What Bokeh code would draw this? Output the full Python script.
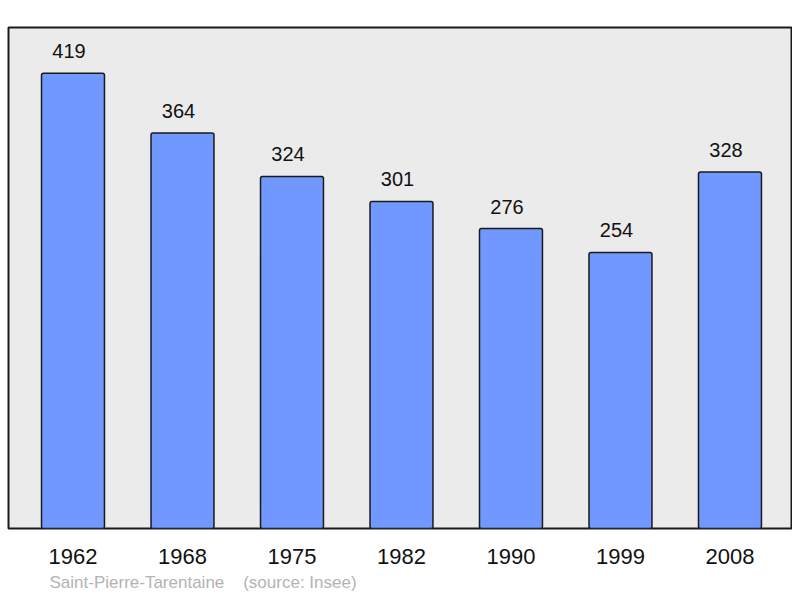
from bokeh.plotting import figure
from bokeh.models import ColumnDataSource, FixedTicker, Range1d, Title
from bokeh.core.properties import value
from bokeh.embed import file_html
from bokeh.resources import INLINE

years = ["1962", "1968", "1975", "1982", "1990", "1999", "2008"]
population = [419, 364, 324, 301, 276, 254, 328]

idx = list(range(len(years)))
src = ColumnDataSource(dict(x=idx, top=population, label=[str(v) for v in population]))

p = figure(width=792, height=598, output_backend="svg", toolbar_location=None,
           x_range=Range1d(-0.589, 6.571), y_range=Range1d(0, 461),
           min_border_left=8, min_border_right=0, min_border_top=27, min_border_bottom=70)
p.background_fill_color = "#ebebeb"
p.border_fill_color = "white"
p.outline_line_color = "#1a1a1a"
p.outline_line_width = 2
p.grid.visible = False
p.yaxis.visible = False

p.vbar(x="x", top="top", bottom=0, width=0.575, source=src,
       fill_color="#7098ff", line_color="#1a1a1a", line_width=1.5, border_radius=2)
p.text(x="x", y="top", text="label", source=src, text_align="center",
       text_baseline="bottom", y_offset=-15, x_offset=-4, text_font=value("Liberation Sans"),
       text_font_size="20px", text_color="#111111")

ax = p.xaxis[0]
ax.ticker = FixedTicker(ticks=idx)
ax.major_label_overrides = {i: y for i, y in zip(idx, years)}
ax.axis_line_color = None
ax.major_tick_line_color = None
ax.minor_tick_line_color = None
ax.major_label_standoff = 14
ax.major_label_text_font = "Liberation Sans"
ax.major_label_text_font_size = "22px"
ax.major_label_text_color = "#111111"

t = Title(text="Saint-Pierre-Tarentaine\u00a0\u00a0\u00a0\u00a0(source: Insee)", align="left", offset=41,
          text_font="Liberation Sans", text_font_size="17px", text_font_style="normal",
          text_color="#b3b3b3", standoff=8)
p.add_layout(t, "below")

open("out.html", "w").write(file_html(p, INLINE))
